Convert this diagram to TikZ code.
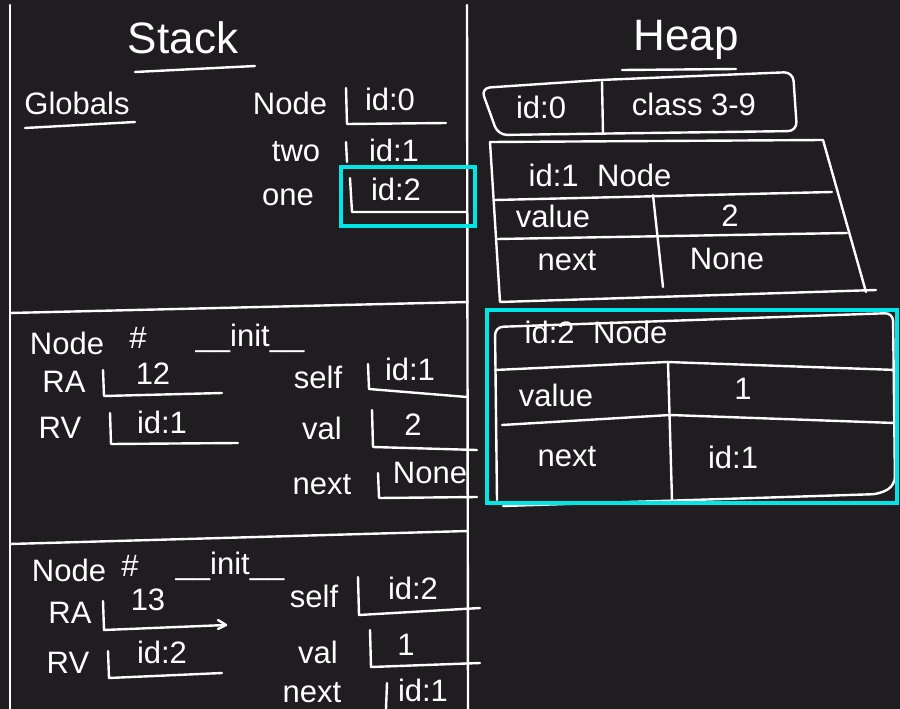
\documentclass[tikz,border=0pt]{standalone}
\usepackage{fontspec}
\setmainfont{Liberation Sans}
\definecolor{board}{HTML}{1F1D1F}
\definecolor{hl}{HTML}{00E6E6}
\begin{document}
\begin{tikzpicture}[x=1pt,y=-1pt,
  chalk/.style={draw=white, line width=2.4pt, line cap=round, line join=round},
  lbl/.style={text=white, font=\fontsize{31}{33}\selectfont, inner sep=0pt},
  title/.style={text=white, font=\fontsize{44}{46}\selectfont, inner sep=0pt},
  hlbox/.style={draw=hl, line width=4pt}]
\fill[board] (0,0) rectangle (900,709);
\useasboundingbox (0,0) rectangle (900,709);
\clip (0,0) rectangle (900,709);

% frame lines
\draw[chalk] (10,5) -- (10,709);
\draw[chalk] (467,5) -- (468,709);
\draw[chalk] (10,313) -- (468,302);
\draw[chalk] (10,544) -- (468,531);

% ---------- Stack ----------
\node[title] (stack) at (183,38) {Stack};
\draw[chalk] (135,72) -- (255,66);
\node[lbl] (globals) at (77,103) {Globals};
\draw[chalk] (25,128) -- (135,122);

\node[lbl] (gnode) at (290,103) {Node};
\node[lbl] (g0) at (390,99) {id:0};
\draw[chalk] (346,88) -- (347,124) -- (446,123);
\node[lbl] (gtwo) at (296,152) {two};
\node[lbl] (g1) at (394,150) {id:1};
\draw[chalk] (346,142) -- (347,162);
\node[lbl] (gone) at (288,197) {one};
\node[lbl] (g2) at (396,189) {id:2};
\draw[chalk] (350,178) -- (352,212) -- (466,212);
\draw[hlbox] (341,167) rectangle (475,226);

% frame 1
\node[lbl] (f1node) at (67,343) {Node};
\node[lbl] (f1hash) at (138,338) {\#};
\node[lbl] (f1init) at (250,338) {\_\_init\_\_};
\node[lbl] (f1ra) at (64,382) {RA};
\draw[chalk] (103,370) -- (104,396) -- (222,393);
\node[lbl] (f1rav) at (153,374) {12};
\node[lbl] (f1rv) at (60,428) {RV};
\draw[chalk] (110,413) -- (111,444) -- (238,443);
\node[lbl] (f1rvv) at (162,422) {id:1};
\node[lbl] (f1self) at (318,377) {self};
\draw[chalk] (368,364) -- (369,389) -- (467,397);
\node[lbl] (f1selfv) at (410,369) {id:1};
\node[lbl] (f1val) at (322,428) {val};
\draw[chalk] (372,410) -- (373,447) -- (477,450);
\node[lbl] (f1valv) at (413,425) {2};
\node[lbl] (f1next) at (322,485) {next};
\draw[chalk] (378,473) -- (379,498) -- (477,497);
\node[lbl] (f1nextv) at (430,473) {None};

% frame 2
\node[lbl] (f2node) at (69,570) {Node};
\node[lbl] (f2hash) at (130,566) {\#};
\node[lbl] (f2init) at (230,566) {\_\_init\_\_};
\node[lbl] (f2ra) at (70,613) {RA};
\draw[chalk] (103,601) -- (104,630) -- (226,625);
\draw[chalk] (218,620) -- (226,625) -- (218,629);
\node[lbl] (f2rav) at (148,600) {13};
\node[lbl] (f2rv) at (68,663) {RV};
\draw[chalk] (108,651) -- (109,678) -- (222,673);
\node[lbl] (f2rvv) at (162,652) {id:2};
\node[lbl] (f2self) at (314,596) {self};
\draw[chalk] (358,577) -- (359,615) -- (480,608);
\node[lbl] (f2selfv) at (413,588) {id:2};
\node[lbl] (f2val) at (318,652) {val};
\draw[chalk] (370,630) -- (371,667) -- (480,663);
\node[lbl] (f2valv) at (406,645) {1};
\node[lbl] (f2next) at (312,693) {next};
\draw[chalk] (387,683) -- (386,709);
\node[lbl] (f2nextv) at (423,690) {id:1};

% ---------- Heap ----------
\node[title] (heap) at (686,40) {Heap};
\draw[chalk] (622,70) -- (736,69);

% id:0 class box
\draw[chalk, rounded corners=9pt] (481,88) -- (600,80) -- (793,72) -- (797,131) -- (498,135) -- cycle;
\draw[chalk] (602,82) -- (603,133);
\node[lbl] (h0id) at (541,107) {id:0};
\node[lbl] (h0cls) at (694,104) {class 3-9};

% id:1 table
\draw[chalk] (490,142) -- (823,140) -- (866,292);
\draw[chalk] (490,142) -- (500,302) -- (876,290);
\draw[chalk] (495,200) -- (832,192);
\draw[chalk] (497,239) -- (847,233);
\draw[chalk] (653,195) -- (663,287);
\node[lbl] (h1head) at (600,175) {id:1\hspace{0.6em}Node};
\node[lbl] (h1vk) at (553,216) {value};
\node[lbl] (h1vv) at (730,216) {2};
\node[lbl] (h1nk) at (567,261) {next};
\node[lbl] (h1nv) at (727,259) {None};

% id:2 table
\draw[chalk, rounded corners=8pt] (497,500) -- (495,327) -- (893,313) -- (895,485) -- (880,494) -- (503,506);
\draw[chalk] (495,370) -- (667,362) -- (897,370);
\draw[chalk] (502,425) -- (670,415) -- (895,423);
\draw[chalk] (668,362) -- (672,500);
\node[lbl] (h2head) at (596,332) {id:2\hspace{0.6em}Node};
\node[lbl] (h2vk) at (556,395) {value};
\node[lbl] (h2vv) at (743,389) {1};
\node[lbl] (h2nk) at (567,457) {next};
\node[lbl] (h2nv) at (733,457) {id:1};
\draw[hlbox] (487,310) rectangle (897,503);
\end{tikzpicture}
\end{document}
